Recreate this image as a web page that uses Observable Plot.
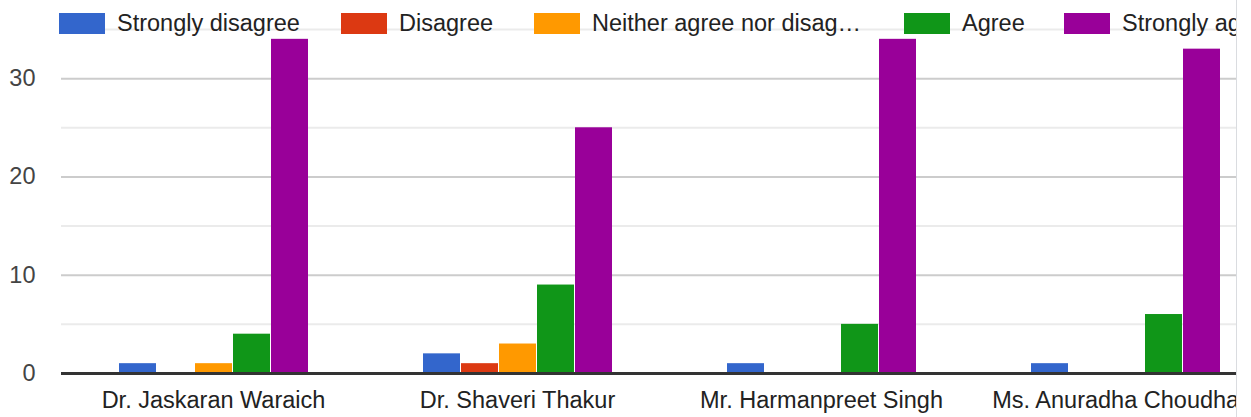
<!DOCTYPE html>
<html>
<head>
<meta charset="utf-8">
<script src="https://cdn.jsdelivr.net/npm/d3@7"></script>
<script src="https://cdn.jsdelivr.net/npm/@observablehq/plot@0.6"></script>
<style>
  html, body { margin: 0; padding: 0; background: #fff; }
  #wrap { position: relative; width: 1236px; height: 417px; overflow: hidden; border-right: 1px solid #dadce0; font-family: "Liberation Sans", Arial, sans-serif; }
  #chart { position: absolute; left: 0; top: 0; width: 1278px; }
  #chart svg { max-width: none !important; }
  #legend { position: absolute; left: 0; top: 13px; width: 1300px; height: 21px; font-size: 23.5px; color: #222; }
  .item { position: absolute; top: 0; display: flex; align-items: center; white-space: nowrap; height: 21px; }
  .sw { width: 46px; height: 21px; margin-right: 12px; flex: none; }
  .lab { line-height: 21px; }
</style>
</head>
<body>
<div id="wrap">
  <div id="chart"></div>
  <div id="legend"></div>
</div>
<script>
const groups = ["Dr. Jaskaran Waraich", "Dr. Shaveri Thakur", "Mr. Harmanpreet Singh", "Ms. Anuradha Choudhary"];
const responses = ["Strongly disagree", "Disagree", "Neither agree nor disagree", "Agree", "Strongly agree"];
const legendLabels = ["Strongly disagree", "Disagree", "Neither agree nor disag\u2026", "Agree", "Strongly agree"];
const colors = ["#3366cc", "#dc3912", "#ff9900", "#109618", "#990099"];
const stronglyDisagree = [1, 2, 1, 1];
const disagree = [0, 1, 0, 0];
const neither = [1, 3, 0, 0];
const agree = [4, 9, 5, 6];
const stronglyAgree = [34, 25, 34, 33];
const majorTicks = [0, 10, 20, 30];
const minorTicks = [5, 15, 25, 35];

const series = [stronglyDisagree, disagree, neither, agree, stronglyAgree];
const data = [];
groups.forEach((g, gi) => {
  responses.forEach((r, ri) => {
    data.push({group: g, response: r, value: series[ri][gi]});
  });
});

const chart = Plot.plot({
  width: 1278,
  height: 417,
  marginLeft: 60,
  marginRight: 0,
  marginTop: 29,
  marginBottom: 44,
  style: {fontFamily: "'Liberation Sans', Arial, sans-serif", fontSize: "23.5px", background: "transparent", maxWidth: "none"},
  fx: {domain: groups, padding: 0, label: null},
  x: {domain: responses, paddingInner: 1/38, paddingOuter: 1.5, axis: null},
  y: {domain: [0, 35], label: null},
  color: {domain: responses, range: colors},
  marks: [
    Plot.ruleY(minorTicks, {stroke: "#ebebeb", strokeWidth: 2}),
    Plot.ruleY(majorTicks, {stroke: "#cccccc", strokeWidth: 2}),
    Plot.barY(data.filter(d => d.value > 0), {fx: "group", x: "response", y: "value", fill: "response"}),
    Plot.ruleY([0], {stroke: "#333333", strokeWidth: 3}),
    Plot.axisY({ticks: majorTicks, tickSize: 0, tickPadding: 26, label: null, color: "#444"}),
    Plot.axisFx({anchor: "bottom", tickSize: 0, tickPadding: 18, label: null, color: "#222"})
  ]
});
document.getElementById("chart").appendChild(chart);

// legend item left edges (layout)
const legendX = [59, 341, 534, 904, 1064];
const legend = document.getElementById("legend");
legendLabels.forEach((t, i) => {
  const item = document.createElement("div");
  item.className = "item";
  item.style.left = legendX[i] + "px";
  const sw = document.createElement("div");
  sw.className = "sw";
  sw.style.background = colors[i];
  const lab = document.createElement("span");
  lab.className = "lab";
  lab.textContent = t;
  item.appendChild(sw);
  item.appendChild(lab);
  legend.appendChild(item);
});
</script>
</body>
</html>
